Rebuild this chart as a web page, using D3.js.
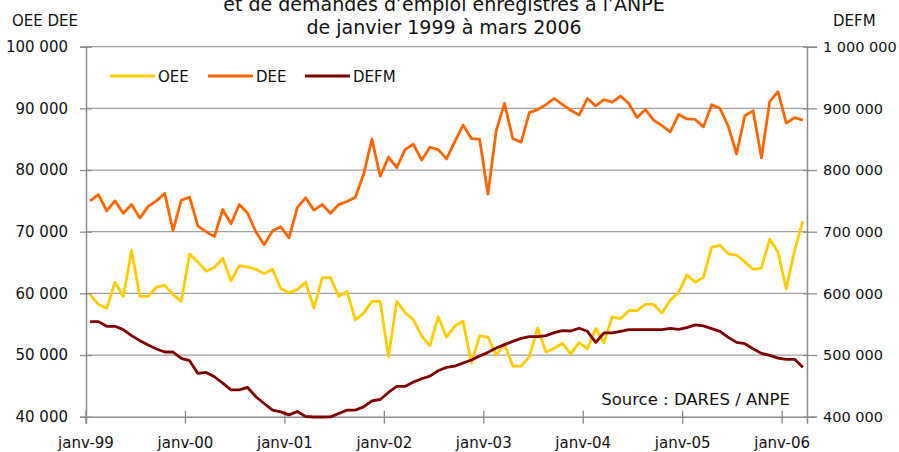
<!DOCTYPE html>
<html>
<head>
<meta charset="utf-8">
<script src="https://cdn.jsdelivr.net/npm/d3@7"></script>
<style>
body { margin: 0; background: #fff; }
svg text { font-family: "DejaVu Sans", Verdana, sans-serif; fill: #111; }
</style>
</head>
<body>
<div id="chart"></div>
<script>
// data, monthly janv-99 .. mars-06 (87 months)
var year_labels = ['janv-99', 'janv-00', 'janv-01', 'janv-02', 'janv-03', 'janv-04', 'janv-05', 'janv-06']
var left_ticks = [40000, 50000, 60000, 70000, 80000, 90000, 100000]
var right_ticks = [400000, 500000, 600000, 700000, 800000, 900000, 1000000]

var oee = [
    59800, 58200, 57600, 61800, 59500, 67000, 59500, 59500, 61000, 61300, 59800, 58700,
    66400, 65100, 63600, 64200, 65700, 62000, 64500, 64300, 63900, 63200, 63900, 60800,
    60100, 60600, 61800, 57600, 62500, 62600, 59500, 60300, 55700, 56800, 58700, 58700,
    49700, 58700, 56900, 55700, 53100, 51500, 56200, 52900, 54700, 55500, 48700, 53100,
    52900, 50000, 51800, 48200, 48200, 49700, 54400, 50500, 51100, 51900, 50200, 52000,
    51000, 54300, 52000, 56200, 55900, 57200, 57200, 58200, 58200, 56800, 58900, 60100,
    63000, 61800, 62600, 67500, 67800, 66400, 66200, 65100, 63900, 64100, 68800, 66700,
    60700, 67000, 71700
]
var dee = [
    75000, 76000, 73400, 75000, 73000, 74400, 72200, 74100, 75000, 76200, 70200, 75100,
    75600, 70900, 70000, 69200, 73600, 71300, 74400, 73000, 70000, 67900, 70100, 70800,
    69000, 73900, 75500, 73500, 74400, 73000, 74400, 74900, 75600, 79300, 85000, 79000,
    82100, 80400, 83300, 84200, 81600, 83700, 83300, 81800, 84600, 87300, 85100, 85000,
    76100, 86400, 90800, 85100, 84500, 89300, 89800, 90600, 91600, 90600, 89700, 88900,
    91600, 90400, 91400, 91000, 92000, 90800, 88500, 89800, 88100, 87200, 86200, 89000,
    88300, 88200, 87000, 90600, 90000, 87100, 82600, 88800, 89600, 82000, 91100, 92700,
    87600, 88500, 88100
]
var defm = [
    554200, 554200, 546600, 546600, 541200, 531400, 523300, 516300, 509800, 504900, 504900, 494600,
    490800, 470200, 471800, 464800, 454500, 443600, 443600, 447400, 432300, 421400, 410600, 407900,
    403000, 408400, 400300, 399500, 399500, 399700, 405200, 410600, 410600, 416000, 425800, 427900,
    439300, 449100, 449100, 456100, 461500, 465900, 474500, 480000, 482100, 487000, 491900, 498400,
    504300, 511400, 516800, 522200, 527100, 529800, 529800, 531400, 536300, 539600, 539000, 543400,
    538500, 520600, 535800, 535800, 538500, 541200, 541200, 541200, 541200, 541200, 543400, 541700,
    544500, 548800, 547200, 542800, 538500, 528700, 520600, 518400, 510300, 502700, 499500, 495100,
    493000, 493000, 480000
]
var series = [
    { name: 'OEE', values: oee, color: '#ffcc00', axis: 'left' },
    { name: 'DEE', values: dee, color: '#ff6600', axis: 'left' },
    { name: 'DEFM', values: defm, color: '#800000', axis: 'right' }
]

var width = 899, height = 452
var plot_left = 86, plot_right = 807, plot_top = 46.7, plot_bottom = 416.7
var grid_color = '#a0a0a0', axis_color = '#8c8c8c'

var svg = d3.select('#chart')
    .append('svg')
    .attr('width', width)
    .attr('height', height)

var x = d3.scaleBand()
    .domain(d3.range(oee.length))
    .range([plot_left, plot_right])
    .padding(0)
var y_left = d3.scaleLinear().domain([40000, 100000]).range([plot_bottom, plot_top])
var y_right = d3.scaleLinear().domain([400000, 1000000]).range([plot_bottom, plot_top])

var fmt = v => d3.format(',')(v).replace(/,/g, ' ')

// horizontal gridlines
svg.append('g')
    .selectAll('line')
    .data(left_ticks.slice(1))
    .enter()
    .append('line')
    .attr('x1', plot_left)
    .attr('x2', plot_right)
    .attr('y1', d => y_left(d))
    .attr('y2', d => y_left(d))
    .attr('stroke', grid_color)
    .attr('stroke-width', 1.3)

// left axis
var left_axis = svg.append('g')
    .attr('transform', `translate(${plot_left},0)`)
    .call(d3.axisLeft(y_left).tickValues(left_ticks).tickFormat(fmt).tickSize(6).tickPadding(12))
left_axis.selectAll('.tick line').attr('x2', -6).attr('x1', 6)

// right axis
var right_axis = svg.append('g')
    .attr('transform', `translate(${plot_right},0)`)
    .call(d3.axisRight(y_right).tickValues(right_ticks).tickFormat(fmt).tickSize(10).tickPadding(6))
right_axis.selectAll('.tick line').attr('x1', -4)

// bottom axis, ticks at the start of each year
var x_ticks = d3.range(0, oee.length, 12)
var bottom_axis = svg.append('g')
    .attr('transform', `translate(0,${plot_bottom})`)
    .call(d3.axisBottom(x).tickValues(x_ticks).tickFormat((d, i) => year_labels[i]).tickSize(7).tickPadding(14))
bottom_axis.selectAll('.tick').attr('transform', d => `translate(${x(d)},0)`)
bottom_axis.selectAll('.tick line').attr('y1', -6)

svg.selectAll('.domain').attr('stroke', axis_color).attr('stroke-width', 1.5)
svg.selectAll('.tick line').attr('stroke', axis_color).attr('stroke-width', 1.3)
svg.selectAll('.tick text')
    .style('font-family', '"DejaVu Sans", Verdana, sans-serif')
    .style('font-size', '15px')
    .attr('fill', '#111')
right_axis.selectAll('.tick text').style('font-size', '14.5px')

// series lines
var line_for = s => d3.line()
    .x((d, i) => x(i) + x.bandwidth() / 2)
    .y(d => s.axis == 'left' ? y_left(d) : y_right(d))

series.forEach(s => {
    svg.append('path')
        .datum(s.values)
        .attr('d', line_for(s))
        .attr('fill', 'none')
        .attr('stroke', s.color)
        .attr('stroke-width', 2.8)
        .attr('stroke-linejoin', 'round')
})

// legend
var legend_x = [110, 208, 305]
var legend = svg.append('g')
series.forEach((s, i) => {
    legend.append('line')
        .attr('x1', legend_x[i])
        .attr('x2', legend_x[i] + 45)
        .attr('y1', 76)
        .attr('y2', 76)
        .attr('stroke', s.color)
        .attr('stroke-width', 2.8)
    legend.append('text')
        .attr('x', legend_x[i] + 48)
        .attr('y', 81.5)
        .style('font-size', '15px')
        .text(s.name)
})

// titles (first line is cut by the top edge, as in the source)
svg.append('text')
    .attr('x', 444).attr('y', 11)
    .attr('text-anchor', 'middle')
    .style('font-size', '19px')
    .text('et de demandes d’emploi enregistrés à l’ANPE')
svg.append('text')
    .attr('x', 444).attr('y', 34)
    .attr('text-anchor', 'middle')
    .style('font-size', '19px')
    .text('de janvier 1999 à mars 2006')

svg.append('text')
    .attr('x', 12).attr('y', 26)
    .style('font-size', '15px')
    .text('OEE DEE')
svg.append('text')
    .attr('x', 833).attr('y', 26)
    .style('font-size', '15px')
    .text('DEFM')

svg.append('text')
    .attr('x', 790).attr('y', 405)
    .attr('text-anchor', 'end')
    .style('font-size', '16.5px')
    .text('Source : DARES / ANPE')
</script>
</body>
</html>
